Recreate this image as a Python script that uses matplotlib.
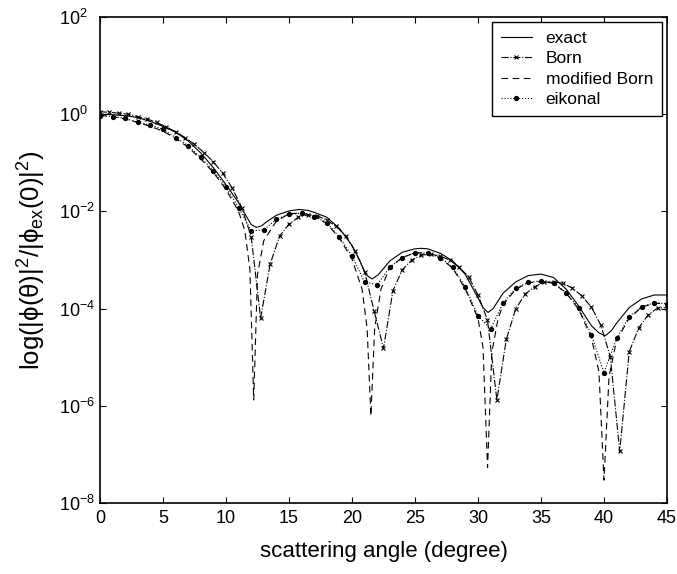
import numpy as np
import matplotlib
matplotlib.use("Agg")
import matplotlib.pyplot as plt
import matplotlib.transforms as mtransforms

plt.rcParams['font.family'] = ['Liberation Sans', 'DejaVu Sans']
plt.rcParams['mathtext.default'] = 'regular'

# exact (solid), log10 of normalised intensity
exact_x = [0, 1, 2, 3, 4, 5, 6, 7, 8, 9, 10, 11, 11.5, 12, 12.4, 12.8, 13.3, 14, 15,
           15.8, 16.5, 17, 18, 19, 20, 20.6, 21.1, 21.6, 22.1, 23, 24, 25, 25.5, 26,
           27, 28, 29, 30, 30.4, 30.8, 31.2, 32, 33, 34, 35, 36, 37, 38, 39, 39.6,
           40.1, 40.6, 41, 42, 43, 44, 45]
exact_log = [0.0, -0.01, -0.03, -0.07, -0.15, -0.25, -0.37, -0.55, -0.8, -1.1, -1.45,
             -1.82, -2.05, -2.27, -2.33, -2.3, -2.2, -2.08, -1.99, -1.96, -1.98, -2.02,
             -2.12, -2.35, -2.7, -3.0, -3.3, -3.39, -3.3, -3.02, -2.84, -2.77, -2.76,
             -2.77, -2.86, -3.02, -3.3, -3.78, -3.98, -4.08, -4.0, -3.68, -3.45, -3.32,
             -3.29, -3.36, -3.6, -3.95, -4.35, -4.5, -4.56, -4.45, -4.3, -3.98, -3.8,
             -3.72, -3.72]

# Born (dash-dot, x markers every 0.75 deg)
born_x = [0, 0.75, 1.5, 2.25, 3, 3.75, 4.5, 5.25, 6, 6.75, 7.5, 8.25, 9, 9.75, 10.5,
          11.25, 12, 12.75, 13.5, 14.25, 15, 15.75, 16.5, 17.25, 18, 18.75, 19.5,
          20.25, 21, 21.75, 22.5, 23.25, 24, 24.75, 25.5, 26.25, 27, 27.75, 28.5,
          29.25, 30, 30.75, 31.5, 32.25, 33, 33.75, 34.5, 35.25, 36, 36.75, 37.5,
          38.25, 39, 39.75, 40.5, 41.25, 42, 42.75, 43.5, 44.25, 45]
born_log = [0.05, 0.04, 0.02, 0.0, -0.05, -0.1, -0.17, -0.26, -0.36, -0.48, -0.62,
            -0.79, -0.98, -1.22, -1.52, -1.92, -2.52, -4.2, -3.09, -2.51, -2.26, -2.12,
            -2.07, -2.09, -2.18, -2.31, -2.5, -2.82, -3.24, -4.04, -4.82, -3.63, -3.2,
            -3.0, -2.9, -2.88, -2.92, -3.0, -3.15, -3.34, -3.72, -4.23, -5.88, -4.63,
            -4.0, -3.7, -3.55, -3.46, -3.45, -3.48, -3.58, -3.74, -3.97, -4.34, -4.99,
            -6.94, -4.89, -4.4, -4.13, -3.99, -3.98]

# modified Born (dashed)
mborn_x = [0, 1, 2, 3, 4, 5, 6, 7, 8, 9, 10, 11, 11.5, 11.9, 12.2, 12.5, 13, 14, 15,
           16, 17, 18, 19, 20, 20.8, 21.2, 21.5, 21.8, 22.3, 23, 24, 25, 26, 27, 28,
           29, 30, 30.4, 30.76, 31.1, 31.6, 32, 33, 34, 35, 36, 37, 38, 39, 39.6, 40,
           40.4, 41, 42, 43, 44, 45]
mborn_log = [-0.02, -0.05, -0.1, -0.17, -0.25, -0.35, -0.5, -0.68, -0.92, -1.2, -1.55,
             -2.0, -2.4, -3.2, -5.88, -3.3, -2.6, -2.2, -2.05, -2.03, -2.1, -2.25,
             -2.55, -2.98, -3.6, -4.4, -6.21, -4.4, -3.6, -3.15, -2.95, -2.85, -2.86,
             -2.96, -3.17, -3.6, -4.2, -4.8, -7.27, -4.9, -4.2, -3.92, -3.6, -3.47,
             -3.44, -3.48, -3.68, -4.02, -4.6, -5.3, -7.53, -5.4, -4.65, -4.2, -3.97,
             -3.89, -3.9]

# eikonal (dotted, dot markers every degree)
eik_x = list(range(0, 46))
eik_log = [-0.03, -0.05, -0.085, -0.17, -0.22, -0.31, -0.48, -0.65, -0.89, -1.16, -1.5,
           -1.92, -2.4, -2.38, -2.16, -2.06, -2.04, -2.11, -2.23, -2.53, -2.92, -3.45,
           -3.51, -3.15, -2.95, -2.85, -2.86, -2.95, -3.15, -3.56, -4.15, -4.42, -3.88,
           -3.58, -3.46, -3.43, -3.47, -3.67, -3.99, -4.54, -5.32, -4.61, -4.17, -3.96,
           -3.88, -3.9]

yticks = [1e-8, 1e-6, 1e-4, 1e-2, 1e0, 1e2]
ytick_labels = ['$10^{-8}$', '$10^{-6}$', '$10^{-4}$', '$10^{-2}$', '$10^{0}$', '$10^{2}$']
xticks = [0, 5, 10, 15, 20, 25, 30, 35, 40, 45]

fig = plt.figure(figsize=(6.77, 5.74), dpi=100)
ax = fig.add_axes([0.1477, 0.1237, 0.8375, 0.8467])

lw = 0.8
ax.semilogy(exact_x, 10 ** np.array(exact_log), '-', color='k', lw=lw, label='exact')
ax.semilogy(born_x, 10 ** np.array(born_log), '-.', color='k', lw=lw, marker='x',
            ms=3.5, mew=0.8, label='Born')
ax.semilogy(mborn_x, 10 ** np.array(mborn_log), '--', color='k', lw=lw,
            dashes=(6, 4), label='modified Born')
ax.semilogy(eik_x, 10 ** np.array(eik_log), ':', color='k', lw=lw, marker='o',
            ms=2.8, label='eikonal')

ax.set_xlim(0, 45)
ax.set_ylim(1e-8, 1e2)
ax.set_xticks(xticks)
ax.set_xticklabels([str(t) for t in xticks])
ax.set_yticks(yticks)
ax.set_yticklabels(ytick_labels)
ax.minorticks_off()
ax.tick_params(direction='in', length=4, width=0.8, labelsize=13, top=True, right=True,
               pad=5)
for s in ax.spines.values():
    s.set_linewidth(1.2)

# matlab-style: tick labels start at a common left edge
shift = mtransforms.ScaledTranslation(-34 / 100, 0, fig.dpi_scale_trans)
for lab in ax.get_yticklabels():
    lab.set_horizontalalignment('left')
    lab.set_transform(lab.get_transform() + shift)

ax.set_xlabel('scattering angle (degree)', fontsize=16, labelpad=10)
ax.set_ylabel(r'log(|ϕ(θ)|$^2$/|ϕ$_{ex}$(0)|$^2$)', fontsize=18.5, labelpad=8)

leg = ax.legend(loc='upper right', fontsize=12.5, fancybox=False, edgecolor='k',
                framealpha=1, handlelength=1.8, labelspacing=0.3, borderpad=0.5,
                borderaxespad=0.3)
leg.get_frame().set_linewidth(1.0)

fig.savefig('out.png', dpi=100)
